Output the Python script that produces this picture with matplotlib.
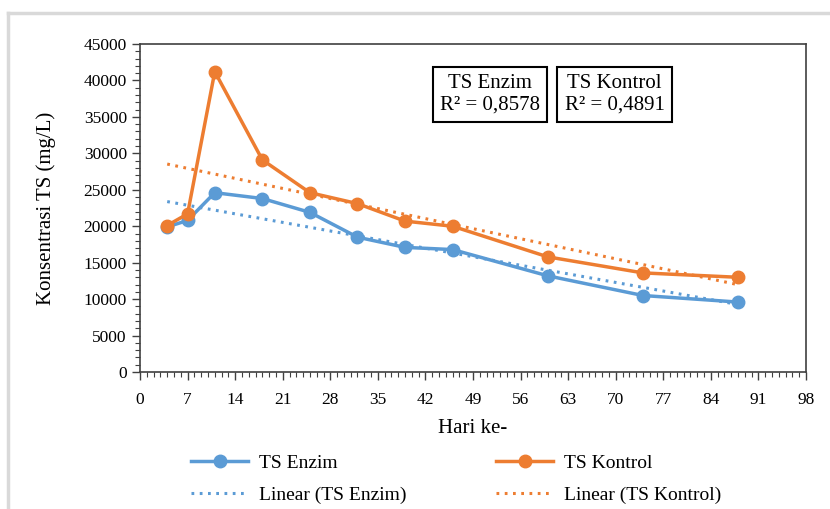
import numpy as np
import matplotlib.pyplot as plt
from matplotlib.lines import Line2D
from matplotlib.ticker import MultipleLocator

plt.rcParams['font.family'] = ['Liberation Serif', 'DejaVu Serif']

# Sampling days and total solids concentration (mg/L)
hari = [4, 7, 11, 18, 25, 32, 39, 46, 60, 74, 88]
ts_enzim = [19900, 20800, 24600, 23800, 21900, 18500, 17100, 16800, 13200, 10500, 9600]
ts_kontrol = [20100, 21700, 41200, 29100, 24600, 23100, 20700, 20000, 15800, 13600, 13000]
x_ticks = list(range(0, 99, 7))
y_ticks = list(range(0, 45001, 5000))
r2_labels = ['TS Enzim\nR² = 0,8578', 'TS Kontrol\nR² = 0,4891']

blue = '#5B9BD5'
orange = '#ED7D31'

fig = plt.figure(figsize=(8.3, 5.09), dpi=100)
ax = fig.add_axes([0.1687, 0.269, 0.8024, 0.6447])

# outer chart border (left and top only visible)
fig.add_artist(Line2D([0.0096, 0.0096], [0, 0.975], color='#d9d9d9', lw=2.5))
fig.add_artist(Line2D([0.0096, 1], [0.975, 0.975], color='#d9d9d9', lw=2.5))

x = np.array(hari)
series = [(ts_enzim, blue, 'TS Enzim'), (ts_kontrol, orange, 'TS Kontrol')]
for y, c, name in series:
    ax.plot(hari, y, color=c, lw=2.5, marker='o', ms=9, label=name, zorder=3)

# linear trendlines
for y, c, name in series:
    k, b = np.polyfit(x, np.array(y), 1)
    xx = np.array([x.min(), x.max()])
    ax.plot(xx, k * xx + b, color=c, lw=2.2, ls=(0, (0.9, 1.8)),
            label=f'Linear ({name})', zorder=2)

ax.set_xlim(0, 98)
ax.set_ylim(0, 45000)
ax.set_xticks(x_ticks)
ax.set_yticks(y_ticks)
ax.xaxis.set_minor_locator(MultipleLocator(1))
ax.yaxis.set_minor_locator(MultipleLocator(1000))
ax.tick_params(axis='both', which='major', labelsize=12.5, length=6, width=1,
               color='#404040', direction='out')
ax.tick_params(axis='both', which='minor', length=3.5, width=0.8, color='#404040',
               direction='out')
ax.tick_params(axis='x', pad=8)
for s in ax.spines.values():
    s.set_color('#404040')
    s.set_linewidth(1.2)

ax.set_xlabel('Hari ke-', fontsize=15, labelpad=8)
ax.set_ylabel('Konsentrasi TS (mg/L)', fontsize=15, labelpad=20)

box = dict(boxstyle='square,pad=0.35', fc='white', ec='black', lw=1.5)
ax.text(0.5255, 0.846, r2_labels[0], transform=ax.transAxes, ha='center', va='center',
        fontsize=15, bbox=box, linespacing=1.2)
ax.text(0.7125, 0.846, r2_labels[1], transform=ax.transAxes, ha='center', va='center',
        fontsize=15, bbox=box, linespacing=1.2)

handles, labels = ax.get_legend_handles_labels()
order = [0, 2, 1, 3]
fig.legend([handles[i] for i in order], [labels[i] for i in order], ncol=2,
           loc='center', bbox_to_anchor=(0.55, 0.059), frameon=False,
           prop={'family': ['Liberation Serif'], 'size': 14},
           handlelength=2.9, columnspacing=4.6, labelspacing=0.75, handletextpad=0.6)

fig.savefig('out.png', dpi=100)
